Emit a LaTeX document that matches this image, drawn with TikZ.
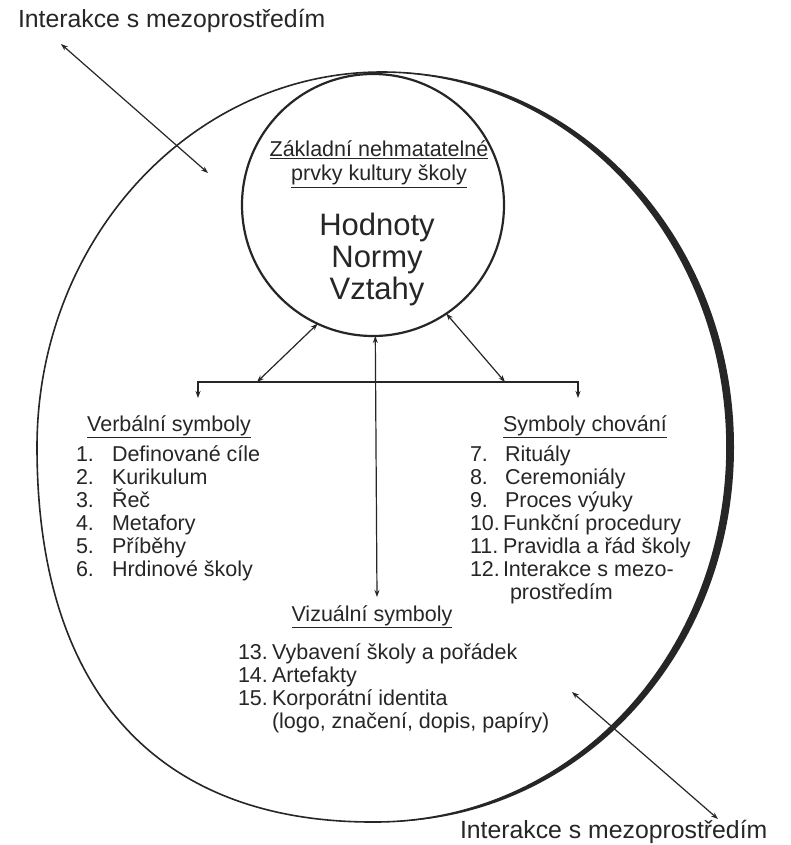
\documentclass[tikz,border=0pt]{standalone}
\usepackage{fontspec}
\setmainfont{Liberation Sans}
\usetikzlibrary{arrows.meta}
\definecolor{ink}{HTML}{262626}
% egg-like outline, shifted horizontally by #1
\def\eggpath#1{(382+#1,72) .. controls (572.5+#1,72) and (727+#1,239.9) .. (727+#1,447)
  .. controls (727+#1,654.1) and (572.5+#1,822) .. (375+#1,822)
  .. controls (165+#1,823) and (37+#1,700) .. (37+#1,447)
  .. controls (37+#1,239.9) and (191.5+#1,72) .. (382+#1,72) -- cycle}
\begin{document}
\begin{tikzpicture}[x=1pt,y=-1pt,
  every node/.style={inner sep=0pt,outer sep=0pt,text=ink},
  item/.style={font=\fontsize{21.5}{24}\selectfont,anchor=base west},
  head/.style={font=\fontsize{21.5}{24}\selectfont,anchor=base},
  big/.style={font=\fontsize{31}{34}\selectfont,anchor=base},
  side/.style={font=\fontsize{24.8}{28}\selectfont,anchor=base west},
  conn/.style={draw=ink,line width=1.2pt,{Stealth[length=7pt,width=5pt]}-{Stealth[length=7pt,width=5pt]}}
]
\useasboundingbox[fill=white] (0,0) rectangle (790,845);

% outer environment
\draw[ink,line width=1.6pt] \eggpath{0};
\begin{scope}
  \clip (398,60) rectangle (790,845);
  \fill[ink,even odd rule] \eggpath{0} \eggpath{7};
\end{scope}

% core circle
\node[circle,draw=ink,line width=2.2pt,minimum size=262pt] (core) at (373,205) {};

\node[head] (coreh1) at (379,157) {\underline{Základní nehmatatelné}};
\node[head] (coreh2) at (379,181) {\underline{prvky kultury školy}};
\node[big] (hod) at (377,235) {Hodnoty};
\node[big] (nor) at (377,267) {Normy};
\node[big] (vzt) at (377,299) {Vztahy};

% side labels
\node[side] (topl) at (18,28) {Interakce s mezoprostředím};
\node[side] (botl) at (460,838) {Interakce s mezoprostředím};

\coordinate (tl1) at (61,44);
\coordinate (tl2) at (208,173);
\draw[conn] (tl1) -- (tl2);
\coordinate (br1) at (572,692);
\coordinate (br2) at (718,819);
\draw[conn] (br1) -- (br2);

% bracket
\coordinate (dL) at (198,398);
\coordinate (hL) at (198,382);
\coordinate (hR) at (578,382);
\coordinate (dR) at (578,398);
\draw[conn] (dL) -- (hL) -- (hR) -- (dR);
\coordinate (jL) at (257,382);
\coordinate (jR) at (505,382);
\draw[conn] (jL) -- (core.245);
\draw[conn] (jR) -- (core.304);
\coordinate (vb) at (377,597);
\draw[conn] (core.271.5) -- (vb);

% verbal symbols
\node[head] (vh) at (169,431) {\underline{Verbální symboly}};
\node[item] (vn1) at (76,461) {1.};  \node[item] (vt1) at (112,461) {Definované cíle};
\node[item] (vn2) at (76,484) {2.};  \node[item] (vt2) at (112,484) {Kurikulum};
\node[item] (vn3) at (76,507) {3.};  \node[item] (vt3) at (112,507) {Řeč};
\node[item] (vn4) at (76,530) {4.};  \node[item] (vt4) at (112,530) {Metafory};
\node[item] (vn5) at (76,553) {5.};  \node[item] (vt5) at (112,553) {Příběhy};
\node[item] (vn6) at (76,576) {6.};  \node[item] (vt6) at (112,576) {Hrdinové školy};

% behaviour symbols
\node[head] (bh) at (585,431) {\underline{Symboly chování}};
\node[item] (bn7) at (470,461) {7.};   \node[item] (bt7) at (505,461) {Rituály};
\node[item] (bn8) at (470,484) {8.};   \node[item] (bt8) at (505,484) {Ceremoniály};
\node[item] (bn9) at (470,507) {9.};   \node[item] (bt9) at (505,507) {Proces výuky};
\node[item] (bn10) at (470,530) {10.}; \node[item] (bt10) at (503,530) {Funkční procedury};
\node[item] (bn11) at (470,553) {11.}; \node[item] (bt11) at (503,553) {Pravidla a řád školy};
\node[item] (bn12) at (470,576) {12.}; \node[item] (bt12) at (503,576) {Interakce s mezo-};
\node[item] (bt12b) at (510,599) {prostředím};

% visual symbols
\node[head] (zh) at (372,621) {\underline{Vizuální symboly}};
\node[item] (zn13) at (238,659) {13.}; \node[item] (zt13) at (272,659) {Vybavení školy a pořádek};
\node[item] (zn14) at (238,682) {14.}; \node[item] (zt14) at (272,682) {Artefakty};
\node[item] (zn15) at (238,705) {15.}; \node[item] (zt15) at (272,705) {Korporátní identita};
\node[item] (zt15b) at (272,728) {(logo, značení, dopis, papíry)};
\end{tikzpicture}
\end{document}
